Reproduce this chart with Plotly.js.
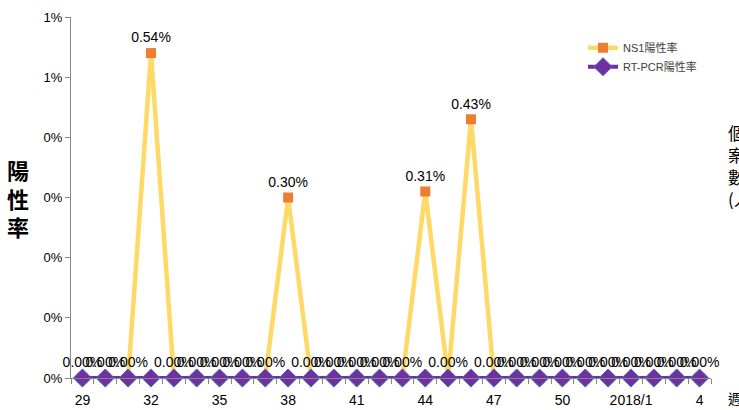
<!DOCTYPE html>
<html>
<head>
<meta charset="utf-8">
<script src="https://cdn.plot.ly/plotly-3.0.1.min.js"></script>
<style>html,body{margin:0;padding:0;background:#fff;}#chart{width:739px;height:410px;}</style>
</head>
<body>
<div id="chart"></div>
<script>
// Week categories (week 29 of 2017 to week 4 of 2018)
const weeks = ['29','30','31','32','33','34','35','36','37','38','39','40','41','42','43','44','45','46','47','48','49','50','51','52','2018/1','2','3','4'];
// NS1 positive rate (fraction)
const ns1Rate = [0,0,0,0.0054,0,0,0,0,0,0.0030,0,0,0,0,0,0.0031,0,0.0043,0,0,0,0,0,0,0,0,0,0];
// RT-PCR positive rate (fraction)
const rtpcrRate = [0,0,0,0,0,0,0,0,0,0,0,0,0,0,0,0,0,0,0,0,0,0,0,0,0,0,0,0];
// Y-axis tick values and labels
const yTickValues = [0,0.001,0.002,0.003,0.004,0.005,0.006];
const yTickLabels = ['0%','0%','0%','0%','0%','1%','1%'];
const seriesNames = ['NS1陽性率','RT-PCR陽性率'];

const xIdx = weeks.map((w,i)=>i);
const xTickVals = xIdx.filter(i => i % 3 === 0);
const xTickText = xTickVals.map(i => weeks[i]);

const FONT = 'Liberation Sans, Noto Sans CJK TC, sans-serif';
const CJK = 'Noto Sans CJK TC, sans-serif';

const traces = [
  {
    x: xIdx, y: ns1Rate, name: seriesNames[0], type: 'scatter', mode: 'lines+markers+text',
    line: {color: '#FFD966', width: 4.5},
    marker: {symbol: 'square', size: 10, color: '#ED7D31'},
    texttemplate: '%{y:.2%}', textposition: 'top center',
    textfont: {family: FONT, size: 14, color: '#000'},
    cliponaxis: false, hoverinfo: 'skip'
  },
  {
    x: xIdx, y: rtpcrRate, name: seriesNames[1], type: 'scatter', mode: 'lines+markers',
    line: {color: '#7030A0', width: 4},
    marker: {symbol: 'diamond', size: 14, color: '#7030A0', line: {color: '#4472C4', width: 1}},
    cliponaxis: false, hoverinfo: 'skip'
  }
];

const layout = {
  width: 739, height: 410,
  margin: {l: 71, r: 28, t: 17, b: 32},
  paper_bgcolor: '#fff', plot_bgcolor: '#fff',
  font: {family: FONT, size: 13, color: '#000'},
  showlegend: true,
  legend: {x: 0.8, y: 0.955, xanchor: 'left', yanchor: 'top', bgcolor: 'rgba(0,0,0,0)',
           font: {family: FONT, size: 11, color: '#404040'}, tracegroupgap: 6},
  xaxis: {
    range: [-0.5, 27.5], showgrid: false, zeroline: false,
    showline: true, linecolor: '#868686', linewidth: 1,
    tickmode: 'array', tickvals: xTickVals, ticktext: xTickText, ticks: '',
    ticklabelstandoff: 9,
    tickfont: {family: FONT, size: 14, color: '#000'},
    minor: {tick0: -0.5, dtick: 1, ticks: 'outside', ticklen: 5, tickcolor: '#868686', showgrid: false}
  },
  yaxis: {
    range: [0, 0.006], showgrid: false, zeroline: false,
    showline: true, linecolor: '#868686', linewidth: 1,
    tickmode: 'array', tickvals: yTickValues, ticktext: yTickLabels,
    ticks: 'outside', ticklen: 5, tickcolor: '#868686',
    tickfont: {family: FONT, size: 13, color: '#000'}
  },
  annotations: [
    {text: '<b>陽<br>性<br>率</b>', xref: 'paper', yref: 'paper', x: -0.083, y: 0.5,
     xanchor: 'center', yanchor: 'middle', showarrow: false, align: 'center',
     font: {family: CJK, size: 22, color: '#000'}},
    {text: '個<br>案<br>數<br>(人)', xref: 'paper', yref: 'paper', x: 1.024, y: 0.59,
     xanchor: 'left', yanchor: 'middle', showarrow: false, align: 'left',
     font: {family: CJK, size: 17, color: '#000'}},
    {text: '週', xref: 'paper', yref: 'paper', x: 1.024, y: -0.055,
     xanchor: 'left', yanchor: 'middle', showarrow: false,
     font: {family: CJK, size: 14, color: '#000'}}
  ]
};

Plotly.newPlot('chart', traces, layout, {staticPlot: true, displayModeBar: false});
</script>
</body>
</html>
